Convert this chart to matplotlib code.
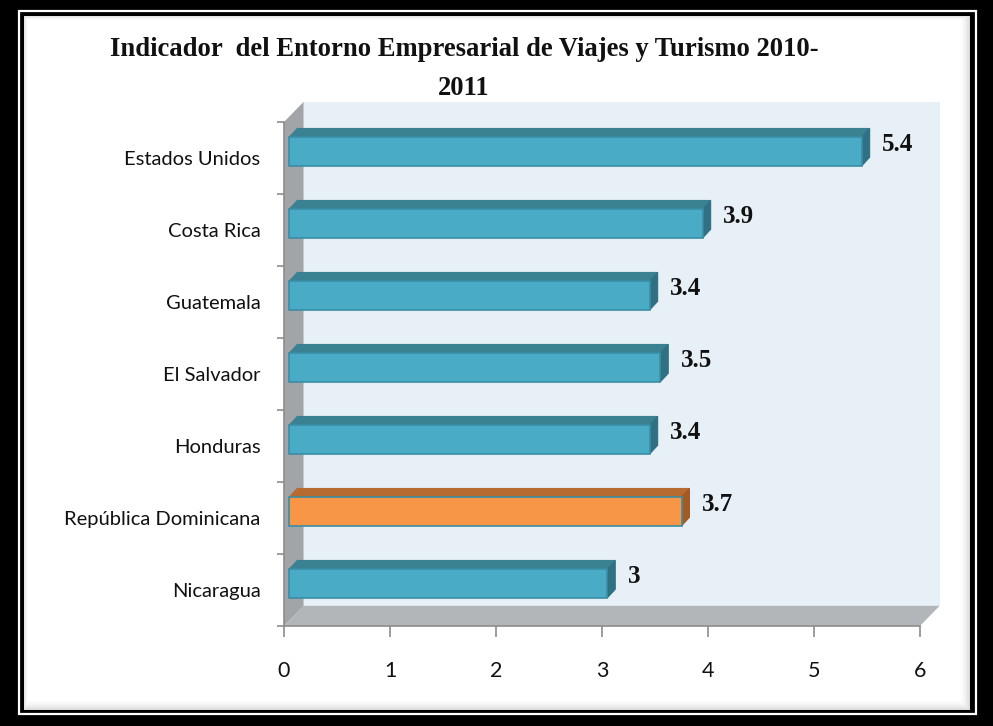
import matplotlib
matplotlib.use("Agg")
import matplotlib.pyplot as plt
from matplotlib.patches import Rectangle, Polygon

# data
paises = ["Nicaragua", "República Dominicana", "Honduras", "El Salvador",
          "Guatemala", "Costa Rica", "Estados Unidos"]
valores = [3.0, 3.7, 3.4, 3.5, 3.4, 3.9, 5.4]
etiquetas = ["3", "3.7", "3.4", "3.5", "3.4", "3.9", "5.4"]
destacado = "República Dominicana"
titulo = "Indicador  del Entorno Empresarial de Viajes y Turismo 2010-\n2011"
xticks = [0, 1, 2, 3, 4, 5, 6]

W, H = 993, 726
fig = plt.figure(figsize=(W / 100, H / 100), dpi=100)
fig.patch.set_facecolor("black")


def px(x0, y0, x1, y1):
    # pixel box (top-left origin) -> figure fraction rect
    return (x0 / W, 1 - y1 / H, (x1 - x0) / W, (y1 - y0) / H)


def frect(box, **kw):
    x, y, w, h = px(*box)
    fig.patches.append(Rectangle((x, y), w, h, transform=fig.transFigure,
                                 zorder=-10, **kw))


# frame: thin white line inside the black border, then white panel
frect((19, 11, 976, 714), facecolor="none", edgecolor="white", linewidth=1.6)
frect((24, 16, 970, 710), facecolor="#d8d8d8", edgecolor="none")
for i, c in enumerate(["#e4e4e4", "#eeeeee", "#f6f6f6", "#fbfbfb", "white"]):
    frect((24 + i, 16 + i, 970 - 2 * i - 1, 710 - 2 * i - 1),
          facecolor=c, edgecolor="none")

ax = fig.add_axes(px(284, 122, 920, 626))
ax.set_xlim(0, 6)
ax.set_ylim(-0.5, 6.5)
ax.set_facecolor("none")
for s in ax.spines.values():
    s.set_visible(False)

# 3D walls
wdx, wdy = 0.185, 0.28
y0, y1 = -0.5, 6.5
ax.add_patch(Polygon([(wdx, y0 + wdy), (6 + wdx, y0 + wdy), (6 + wdx, y1 + wdy),
                      (wdx, y1 + wdy)], closed=True, facecolor="#e8f0f7",
                     edgecolor="none", clip_on=False, zorder=0))
ax.add_patch(Polygon([(0, y0), (6, y0), (6 + wdx, y0 + wdy), (wdx, y0 + wdy)],
                     closed=True, facecolor="#b2b6b9", edgecolor="none",
                     clip_on=False, zorder=1))
ax.add_patch(Polygon([(0, y0), (wdx, y0 + wdy), (wdx, y1 + wdy), (0, y1)],
                     closed=True, facecolor="#a2a5a8", edgecolor="none",
                     clip_on=False, zorder=1))

# axis lines
ax.plot([0, 0], [y0, y1], color="#8c8c8c", lw=1.2, clip_on=False, zorder=2)
ax.plot([0, 6], [y0, y0], color="#8c8c8c", lw=1.2, clip_on=False, zorder=2)

# bars
bh = 0.40
bdx, bdy = 0.075, 0.12
x0 = 0.05
for i, (p, v, lab) in enumerate(zip(paises, valores, etiquetas)):
    if p == destacado:
        front, top, side, edge = "#f79646", "#b86b30", "#a35b25", "#3a8ea3"
    else:
        front, top, side, edge = "#4aabc6", "#3a8292", "#2f7183", "#3a8ea3"
    yc = i + 0.09
    yb, yt = yc - bh / 2, yc + bh / 2
    x1 = v + x0
    ax.add_patch(Polygon([(x0, yt), (x0 + bdx, yt + bdy), (x1 + bdx, yt + bdy),
                          (x1, yt)], closed=True, facecolor=top,
                         edgecolor=top, lw=0.8, zorder=3))
    ax.add_patch(Polygon([(x1, yb), (x1, yt), (x1 + bdx, yt + bdy),
                          (x1 + bdx, yb + bdy)], closed=True, facecolor=side,
                         edgecolor=side, lw=0.8, zorder=3))
    ax.add_patch(Rectangle((x0, yb), v, bh, facecolor=front, edgecolor=edge,
                           lw=1.2, zorder=4))
    ax.text(v + 0.24, i + 0.19, lab, ha="left", va="center",
            family="Liberation Serif", fontweight="bold", fontsize=18,
            color="#111111", zorder=5)

# ticks
ax.set_yticks(range(len(paises)))
ax.set_yticklabels(paises, family="Lato", fontsize=14.5, color="#111111")
ax.set_yticks([k - 0.5 for k in range(len(paises) + 1)], minor=True)
ax.tick_params(axis="y", which="major", length=0, pad=17)
ax.tick_params(axis="y", which="minor", length=5, color="#8c8c8c", width=1.2)
ax.set_xticks(xticks)
ax.set_xticklabels([str(t) for t in xticks], family="Lato", fontsize=15.5,
                   color="#111111")
ax.tick_params(axis="x", length=8, color="#8c8c8c", width=1.2, pad=17)

fig.text(464 / W, 1 - 69 / H, titulo, ha="center", va="center",
         family="Liberation Serif", fontweight="bold", fontsize=19.2,
         color="#111111", linespacing=1.7)

fig.savefig("out.png", dpi=100, facecolor=fig.get_facecolor())
